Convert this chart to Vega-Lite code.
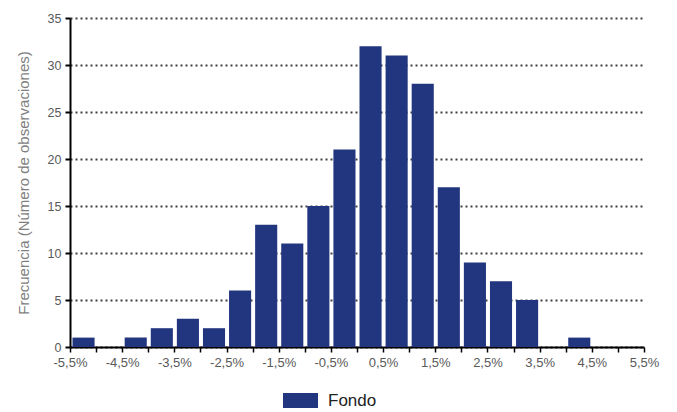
{
  "$schema": "https://vega.github.io/schema/vega-lite/v6.json",
  "width": 574,
  "height": 329,
  "autosize": {"type": "none"},
  "padding": {"left": 70, "top": 18, "right": 33, "bottom": 65},
  "background": "white",
  "config": {
    "view": {"stroke": null},
    "font": "Liberation Sans"
  },
  "data": {
    "values": [
      {"desde": -5.5, "hasta": -5.0, "frecuencia": 1, "serie": "Fondo"},
      {"desde": -5.0, "hasta": -4.5, "frecuencia": 0, "serie": "Fondo"},
      {"desde": -4.5, "hasta": -4.0, "frecuencia": 1, "serie": "Fondo"},
      {"desde": -4.0, "hasta": -3.5, "frecuencia": 2, "serie": "Fondo"},
      {"desde": -3.5, "hasta": -3.0, "frecuencia": 3, "serie": "Fondo"},
      {"desde": -3.0, "hasta": -2.5, "frecuencia": 2, "serie": "Fondo"},
      {"desde": -2.5, "hasta": -2.0, "frecuencia": 6, "serie": "Fondo"},
      {"desde": -2.0, "hasta": -1.5, "frecuencia": 13, "serie": "Fondo"},
      {"desde": -1.5, "hasta": -1.0, "frecuencia": 11, "serie": "Fondo"},
      {"desde": -1.0, "hasta": -0.5, "frecuencia": 15, "serie": "Fondo"},
      {"desde": -0.5, "hasta": 0.0, "frecuencia": 21, "serie": "Fondo"},
      {"desde": 0.0, "hasta": 0.5, "frecuencia": 32, "serie": "Fondo"},
      {"desde": 0.5, "hasta": 1.0, "frecuencia": 31, "serie": "Fondo"},
      {"desde": 1.0, "hasta": 1.5, "frecuencia": 28, "serie": "Fondo"},
      {"desde": 1.5, "hasta": 2.0, "frecuencia": 17, "serie": "Fondo"},
      {"desde": 2.0, "hasta": 2.5, "frecuencia": 9, "serie": "Fondo"},
      {"desde": 2.5, "hasta": 3.0, "frecuencia": 7, "serie": "Fondo"},
      {"desde": 3.0, "hasta": 3.5, "frecuencia": 5, "serie": "Fondo"},
      {"desde": 3.5, "hasta": 4.0, "frecuencia": 0, "serie": "Fondo"},
      {"desde": 4.0, "hasta": 4.5, "frecuencia": 1, "serie": "Fondo"},
      {"desde": 4.5, "hasta": 5.0, "frecuencia": 0, "serie": "Fondo"},
      {"desde": 5.0, "hasta": 5.5, "frecuencia": 0, "serie": "Fondo"}
    ]
  },
  "mark": {"type": "bar", "binSpacing": 4},
  "encoding": {
    "x": {
      "field": "desde",
      "type": "quantitative",
      "bin": "binned",
      "scale": {"domain": [-5.5, 5.5], "nice": false, "zero": false},
      "axis": {
        "title": null,
        "values": [-5.5, -5, -4.5, -4, -3.5, -3, -2.5, -2, -1.5, -1, -0.5, 0, 0.5, 1, 1.5, 2, 2.5, 3, 3.5, 4, 4.5, 5, 5.5],
        "labelExpr": "abs(((datum.value + 5.5) % 1)) < 0.01 ? (datum.value < 0 ? '-' : '') + replace(format(abs(datum.value), '.1f'), '.', ',') + '%' : ''",
        "grid": false,
        "domainColor": "#000000",
        "domainWidth": 2,
        "tickColor": "#000000",
        "tickWidth": 1.5,
        "tickSize": 5,
        "labelColor": "#595959",
        "labelFontSize": 13,
        "labelPadding": 4,
        "labelFlush": false,
        "labelOverlap": false
      }
    },
    "x2": {"field": "hasta"},
    "y": {
      "field": "frecuencia",
      "type": "quantitative",
      "scale": {"domain": [0, 35], "nice": false},
      "axis": {
        "title": "Frecuencia (Número de observaciones)",
        "titleColor": "#7f7f7f",
        "titleFontSize": 15,
        "titleFontWeight": "normal",
        "titlePadding": 16,
        "values": [0, 5, 10, 15, 20, 25, 30, 35],
        "grid": true,
        "gridColor": "#404040",
        "gridDash": [2, 3],
        "gridWidth": 2,
        "domainColor": "#000000",
        "domainWidth": 2,
        "tickColor": "#000000",
        "tickWidth": 2,
        "tickSize": 5,
        "labelColor": "#595959",
        "labelFontSize": 12.5,
        "labelPadding": 4
      }
    },
    "color": {
      "field": "serie",
      "type": "nominal",
      "scale": {"range": ["#22357f"]},
      "legend": {
        "title": null,
        "orient": "none",
        "legendX": 213,
        "legendY": 365,
        "symbolType": "M-1,-0.43H1V0.43H-1Z",
        "symbolSize": 1225,
        "symbolStrokeWidth": 0,
        "labelFontSize": 17,
        "labelColor": "#222222",
        "labelOffset": 10
      }
    }
  }
}
